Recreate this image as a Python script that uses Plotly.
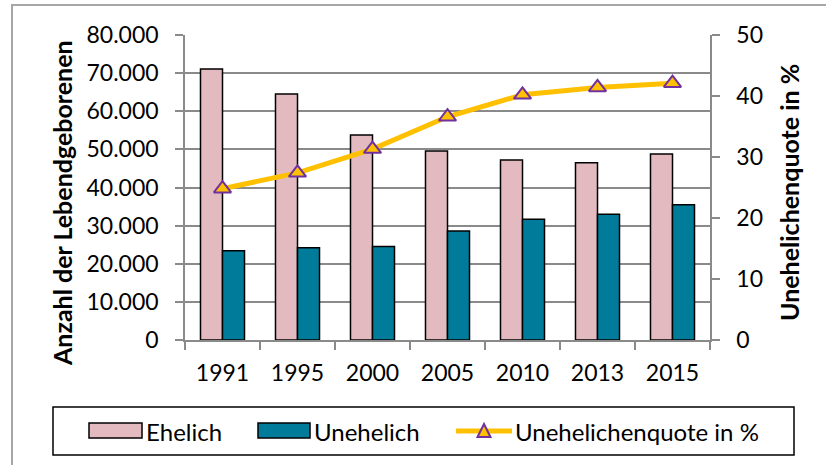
import plotly.graph_objects as go

# ---- data ----
years = ["1991", "1995", "2000", "2005", "2010", "2013", "2015"]
ehelich = [71100, 64500, 53800, 49600, 47200, 46500, 48800]
unehelich = [23400, 24200, 24500, 28600, 31700, 33000, 35500]
quote = [24.8, 27.4, 31.3, 36.6, 40.2, 41.4, 42.1]

series_names = ["Ehelich", "Unehelich", "Unehelichenquote in %"]
y_title = "Anzahl der Lebendgeborenen"
y2_title = "Unehelichenquote in %"

# ---- styles ----
PINK = "#E2BAC0"
TEAL = "#007C9A"
GOLD = "#FFC000"
PURPLE = "#7030A0"
GRID = "#8A8A8A"
FONT = "Lato"

W, H = 826, 465
L, R, T, B = 185, 710, 35, 340  # plot area in pixels


def px(x):
    return (x - L) / (R - L)


def py(y):
    return (B - y) / (B - T)


fig = go.Figure()
fig.add_trace(go.Bar(x=years, y=ehelich, name=series_names[0],
                     marker=dict(color=PINK, line=dict(color="black", width=1.5)),
                     showlegend=False))
fig.add_trace(go.Bar(x=years, y=unehelich, name=series_names[1],
                     marker=dict(color=TEAL, line=dict(color="black", width=1.5)),
                     showlegend=False))
fig.add_trace(go.Scatter(x=years, y=quote, name=series_names[2], yaxis="y2",
                         mode="lines+markers",
                         line=dict(color=GOLD, width=5),
                         marker=dict(symbol="triangle-up", size=15, color=GOLD,
                                     line=dict(color=PURPLE, width=2)),
                         showlegend=False))

shapes = [
    # outer frame
    dict(type="rect", xref="paper", yref="paper", x0=px(12), x1=px(832), y0=py(472), y1=py(5),
         line=dict(color="#A6A6A6", width=2), layer="below"),
    # legend box
    dict(type="rect", xref="paper", yref="paper", x0=px(53), x1=px(794), y0=py(455), y1=py(407),
         line=dict(color="black", width=1.5)),
    # legend swatches
    dict(type="rect", xref="paper", yref="paper", x0=px(89), x1=px(142), y0=py(438), y1=py(423),
         fillcolor=PINK, line=dict(color="black", width=1.5)),
    dict(type="rect", xref="paper", yref="paper", x0=px(258), x1=px(310), y0=py(438), y1=py(423),
         fillcolor=TEAL, line=dict(color="black", width=1.5)),
    dict(type="line", xref="paper", yref="paper", x0=px(456), x1=px(512), y0=py(431), y1=py(431),
         line=dict(color=GOLD, width=5)),
    dict(type="path", xref="paper", yref="paper",
         path="M {a},{b} L {c},{b} L {d},{e} Z".format(a=px(477.5), c=px(490.5), b=py(437), d=px(484), e=py(424)),
         fillcolor=GOLD, line=dict(color=PURPLE, width=2)),
]

annotations = [
    dict(text=series_names[0], x=px(144), y=py(431), xref="paper", yref="paper",
         xanchor="left", yanchor="middle", showarrow=False, font=dict(size=24)),
    dict(text=series_names[1], x=px(312), y=py(431), xref="paper", yref="paper",
         xanchor="left", yanchor="middle", showarrow=False, font=dict(size=24)),
    dict(text=series_names[2], x=px(513), y=py(431), xref="paper", yref="paper",
         xanchor="left", yanchor="middle", showarrow=False, font=dict(size=24)),
    dict(text="<b>" + y_title + "</b>", x=px(62), y=py(203), xref="paper", yref="paper",
         xanchor="center", yanchor="middle", textangle=-90, showarrow=False, font=dict(size=25)),
    dict(text="<b>" + y2_title + "</b>", x=px(789), y=py(193), xref="paper", yref="paper",
         xanchor="center", yanchor="middle", textangle=-90, showarrow=False, font=dict(size=25)),
]

fig.update_layout(
    width=W, height=H,
    margin=dict(l=L, r=W - R, t=T, b=H - B, pad=0),
    paper_bgcolor="white", plot_bgcolor="white",
    font=dict(family=FONT, size=23, color="black"),
    separators=",.",
    barmode="group", bargap=0.413, bargroupgap=0,
    showlegend=False,
    xaxis=dict(type="category", showline=True, linecolor=GRID, linewidth=1.5,
               ticks="outside", tickson="boundaries", ticklen=8, tickcolor=GRID, tickwidth=1.5,
               showgrid=False, ticklabelstandoff=12),
    yaxis=dict(range=[0, 80000], dtick=10000, tickformat=",d",
               showline=True, linecolor=GRID, linewidth=1.5,
               ticks="outside", ticklen=8, tickcolor=GRID, tickwidth=1.5,
               showgrid=True, gridcolor=GRID, gridwidth=1.5, zeroline=False,
               ticklabelstandoff=12),
    yaxis2=dict(range=[0, 50], dtick=10, overlaying="y", side="right",
                showline=True, linecolor=GRID, linewidth=1.5,
                ticks="outside", ticklen=8, tickcolor=GRID, tickwidth=1.5,
                showgrid=False, zeroline=False, ticklabelstandoff=12),
    shapes=shapes,
    annotations=annotations,
)

fig.write_html("out.html", config={"displayModeBar": False},
               post_script="document.body.style.margin='0';document.body.style.overflow='hidden';")
